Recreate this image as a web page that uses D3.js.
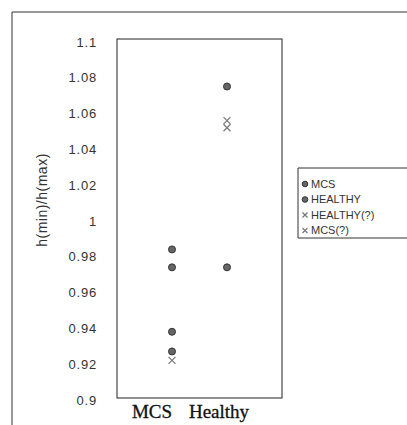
<!DOCTYPE html>
<html>
<head>
<meta charset="utf-8">
<script src="https://cdn.jsdelivr.net/npm/d3@7"></script>
<style>
  body { margin: 0; background: white; }
  svg { display: block; }
</style>
</head>
<body>
<svg id="chart" width="407" height="425"></svg>
<script>

// data
var categories = ['MCS', 'Healthy'];
var mcs_values = [0.983, 0.973, 0.937, 0.926];
var healthy_values = [1.074, 0.973];
var healthy_q_values = [1.055, 1.051];
var mcs_q_values = [0.921];
var y_ticks = [0.9, 0.92, 0.94, 0.96, 0.98, 1, 1.02, 1.04, 1.06, 1.08, 1.1];
var legend_labels = ['MCS', 'HEALTHY', 'HEALTHY(?)', 'MCS(?)'];

var svg = d3.select('#chart');

var plot = {left: 117, right: 282, top: 40, bottom: 398};

var x = d3.scaleLinear().domain([0, 3]).range([plot.left, plot.right]);
var y = d3.scaleLinear().domain([0.9, 1.1]).range([plot.bottom, plot.top]);

// outer frame (open on right / bottom like the crop)
svg.append('path')
   .attr('d', 'M12,425 L12,12 L407,12')
   .attr('fill', 'none')
   .attr('stroke', '#333')
   .attr('stroke-width', 1);

// plot area
svg.append('rect')
   .attr('x', plot.left)
   .attr('y', plot.top - 1)
   .attr('width', plot.right - plot.left)
   .attr('height', plot.bottom - plot.top + 1)
   .attr('fill', 'white')
   .attr('stroke', '#222')
   .attr('stroke-width', 1);

// y tick labels
svg.append('g')
   .selectAll('text')
   .data(y_ticks)
   .enter()
   .append('text')
   .attr('x', 97)
   .attr('y', d => y(d) + 2)
   .attr('dy', '0.35em')
   .attr('text-anchor', 'end')
   .attr('font-family', 'Arial, "Liberation Sans", sans-serif')
   .attr('font-size', 13)
   .attr('letter-spacing', 0.8)
   .attr('fill', '#333')
   .text(d => d3.format('~g')(d));

// y title
svg.append('text')
   .attr('transform', 'translate(47,' + 200 + ') rotate(-90)')
   .attr('text-anchor', 'middle')
   .attr('font-family', 'Arial, "Liberation Sans", sans-serif')
   .attr('font-size', 14)
   .attr('letter-spacing', 0.5)
   .attr('fill', '#333')
   .text('h(min)/h(max)');

// category labels under the axis
svg.append('g')
   .selectAll('text')
   .data(categories)
   .enter()
   .append('text')
   .attr('x', (d, i) => i == 0 ? 152 : 219)
   .attr('y', 418)
   .attr('text-anchor', 'middle')
   .attr('font-family', '"Liberation Serif", "Times New Roman", serif')
   .attr('font-size', 19)
   .attr('stroke', '#111')
   .attr('stroke-width', 0.3)
   .attr('fill', '#111')
   .text(d => d);

var dot = (g, cx, cy, r) => {
  g.append('circle')
   .attr('cx', cx)
   .attr('cy', cy)
   .attr('r', r)
   .attr('fill', '#666')
   .attr('stroke', '#333')
   .attr('stroke-width', 1);
};

var cross = (g, cx, cy, s) => {
  g.append('path')
   .attr('d', 'M' + (cx - s) + ',' + (cy - s) + 'L' + (cx + s) + ',' + (cy + s)
            + 'M' + (cx - s) + ',' + (cy + s) + 'L' + (cx + s) + ',' + (cy - s))
   .attr('stroke', '#777')
   .attr('stroke-width', 1.2)
   .attr('fill', 'none');
};

var marks = svg.append('g');
mcs_q_values.forEach(v => cross(marks, x(1), y(v), 3.5));
healthy_q_values.forEach(v => cross(marks, x(2), y(v), 3.5));
mcs_values.forEach(v => dot(marks, x(1), y(v), 3.5));
healthy_values.forEach(v => dot(marks, x(2), y(v), 3.5));

// legend
var legend = svg.append('g');
legend.append('path')
      .attr('d', 'M407,168 L298,168 L298,238 L407,238')
      .attr('fill', 'none')
      .attr('stroke', '#333')
      .attr('stroke-width', 1);

legend_labels.forEach((label, i) => {
  var ly = 184 + i * 15.5;
  if (i < 2) dot(legend, 305, ly, 2.8);
  else cross(legend, 305, ly, 2.5);
  legend.append('text')
        .attr('x', 311)
        .attr('y', ly)
        .attr('dy', '0.35em')
        .attr('font-family', 'Arial, "Liberation Sans", sans-serif')
        .attr('font-size', 11)
        .attr('fill', '#333')
        .text(label);
});

</script>
</body>
</html>
